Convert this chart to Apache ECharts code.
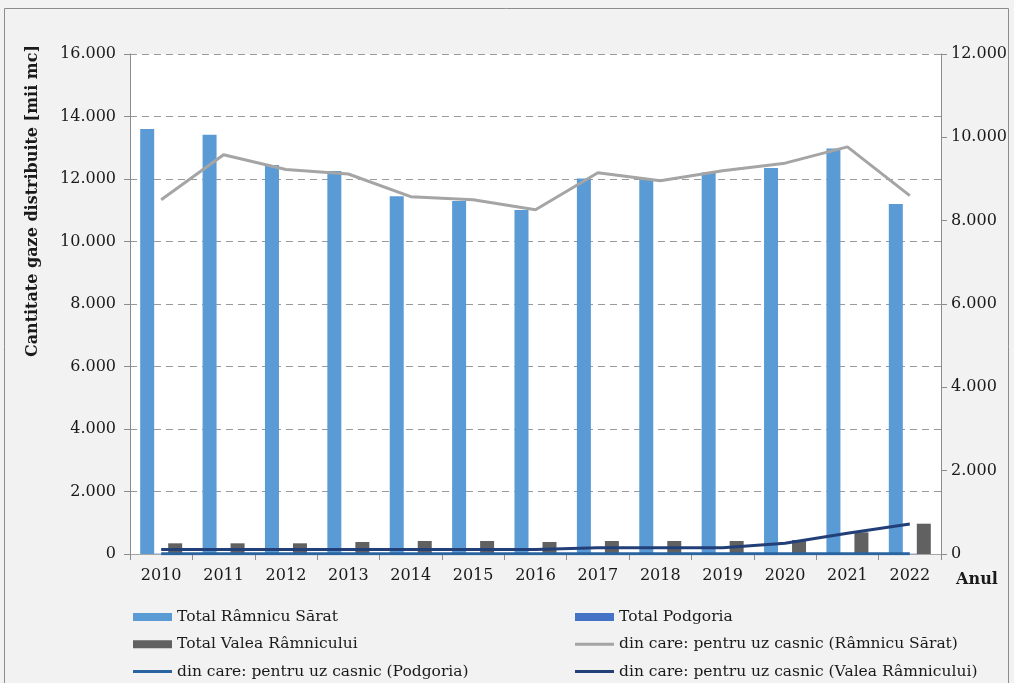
<!DOCTYPE html>
<html>
<head>
<meta charset="utf-8">
<script src="https://cdn.jsdelivr.net/npm/echarts@6/dist/echarts.min.js"></script>
<style>
html,body{margin:0;padding:0;background:#fff;}
#c{width:1014px;height:683px;}
</style>
</head>
<body>
<div id="c"></div>
<script>
const years = ['2010','2011','2012','2013','2014','2015','2016','2017','2018','2019','2020','2021','2022'];
const totalRamnicu = [13600, 13420, 12450, 12260, 11450, 11300, 11010, 12020, 11970, 12210, 12350, 12980, 11200];
const totalPodgoria = [10, 10, 10, 10, 10, 10, 10, 10, 10, 10, 10, 10, 10];
const totalValea = [342, 342, 342, 384, 416, 416, 384, 416, 416, 416, 448, 694, 970];
const casnicRamnicu = [8500, 9580, 9230, 9120, 8575, 8500, 8260, 9150, 8960, 9200, 9380, 9770, 8600];
const casnicPodgoria = [5, 5, 5, 5, 5, 5, 5, 5, 5, 5, 5, 5, 5];
const casnicValea = [110, 110, 110, 110, 110, 110, 110, 151, 151, 151, 256, 496, 720];
const leftTicks = {min: 0, max: 16000, interval: 2000};
const rightTicks = {min: 0, max: 12000, interval: 2000};

const names = ['Total Râmnicu Sărat','Total Podgoria','Total Valea Râmnicului',
  'din care: pentru uz casnic (Râmnicu Sărat)','din care: pentru uz casnic (Podgoria)','din care: pentru uz casnic (Valea Râmnicului)'];

function fmt(v){ return String(v).replace(/\B(?=(\d{3})+(?!\d))/g,'.'); }

const FONT = 'DejaVu Serif';
const axisCol = '#8c8c8c';
const LINE_ICON = 'path://M0,0h39v3h-39z';
const chart = echarts.init(document.getElementById('c'));
const legendText = {fontFamily: FONT, fontSize: 15.5, color: '#1a1a1a', lineHeight: 16};
const legendBase = {orient:'vertical', top:609, padding:0, itemWidth:39, itemHeight:8, itemGap:11.3, height:80, symbolKeepAspect:true, textStyle: legendText};

chart.setOption({
  backgroundColor: '#f2f2f2',
  animation: false,
  graphic: [
    {type:'rect', shape:{x:4.5,y:8.5,width:1004,height:690}, style:{fill:'none', stroke:'#8c8c8c', lineWidth:1}, z:-10},
    {type:'text', x:33, y:201, rotation: Math.PI/2,
      style:{text:'Cantitate gaze distribuite [mii mc]', fontFamily: FONT, fontWeight:'bold', fontSize:16, fill:'#1a1a1a', align:'center', verticalAlign:'middle'}},
    {type:'text', x:977, y:580,
      style:{text:'Anul', fontFamily: FONT, fontWeight:'bold', fontSize:16, fill:'#1a1a1a', align:'center', verticalAlign:'middle'}}
  ],
  grid: {left:130, right:73, top:54, bottom:129, show:true, backgroundColor:'#ffffff', borderWidth:0},
  legend: [
    Object.assign({left:133, data:[{name:names[0], icon:'rect'}, {name:names[2], icon:'rect'}, {name:names[4], icon:LINE_ICON}]}, legendBase),
    Object.assign({left:575, data:[{name:names[1], icon:'rect'}, {name:names[3], icon:LINE_ICON}, {name:names[5], icon:LINE_ICON}]}, legendBase)
  ],
  xAxis: [
    {type:'category', data: years, position:'bottom',
      axisLine:{show:true, lineStyle:{color:axisCol, width:1}},
      axisTick:{show:true, alignWithLabel:false, length:6, lineStyle:{color:axisCol}},
      axisLabel:{fontFamily: FONT, fontSize:16, color:'#1a1a1a', margin:14},
      splitLine:{show:false}},
    {type:'category', data: years, position:'top',
      axisLine:{show:true, lineStyle:{color:'#a6a6a6', width:1}},
      axisTick:{show:false}, axisLabel:{show:false}, splitLine:{show:false}}
  ],
  yAxis: [
    {type:'value', min:leftTicks.min, max:leftTicks.max, interval:leftTicks.interval, position:'left',
      axisLine:{show:true, lineStyle:{color:axisCol, width:1}},
      axisTick:{show:true, length:6, lineStyle:{color:axisCol}},
      axisLabel:{fontFamily: FONT, fontSize:16, color:'#1a1a1a', margin:14, formatter: fmt},
      splitLine:{show:true, lineStyle:{color:'#9a9a9a', type:[7,5], width:1}}},
    {type:'value', min:rightTicks.min, max:rightTicks.max, interval:rightTicks.interval, position:'right',
      axisLine:{show:true, lineStyle:{color:axisCol, width:1}},
      axisTick:{show:true, length:6, lineStyle:{color:axisCol}},
      axisLabel:{fontFamily: FONT, fontSize:16, color:'#1a1a1a', margin:10, formatter: fmt},
      splitLine:{show:false}}
  ],
  series: [
    {name:names[0], type:'bar', data: totalRamnicu, barWidth:14, barGap:'0%', itemStyle:{color:'#5b9bd5'}},
    {name:names[1], type:'bar', data: totalPodgoria, barWidth:14, barGap:'0%', itemStyle:{color:'#4472c4'}},
    {name:names[2], type:'bar', data: totalValea, barWidth:14, barGap:'0%', itemStyle:{color:'#616161'}},
    {name:names[3], type:'line', yAxisIndex:1, data: casnicRamnicu, symbol:'none', lineStyle:{color:'#a5a5a5', width:3}, itemStyle:{color:'#a5a5a5'}, z:5},
    {name:names[4], type:'line', yAxisIndex:1, data: casnicPodgoria, symbol:'none', lineStyle:{color:'#2a64a0', width:3}, itemStyle:{color:'#2a64a0'}, z:5},
    {name:names[5], type:'line', yAxisIndex:1, data: casnicValea, symbol:'none', lineStyle:{color:'#233f78', width:3}, itemStyle:{color:'#233f78'}, z:6}
  ]
});
</script>
</body>
</html>
